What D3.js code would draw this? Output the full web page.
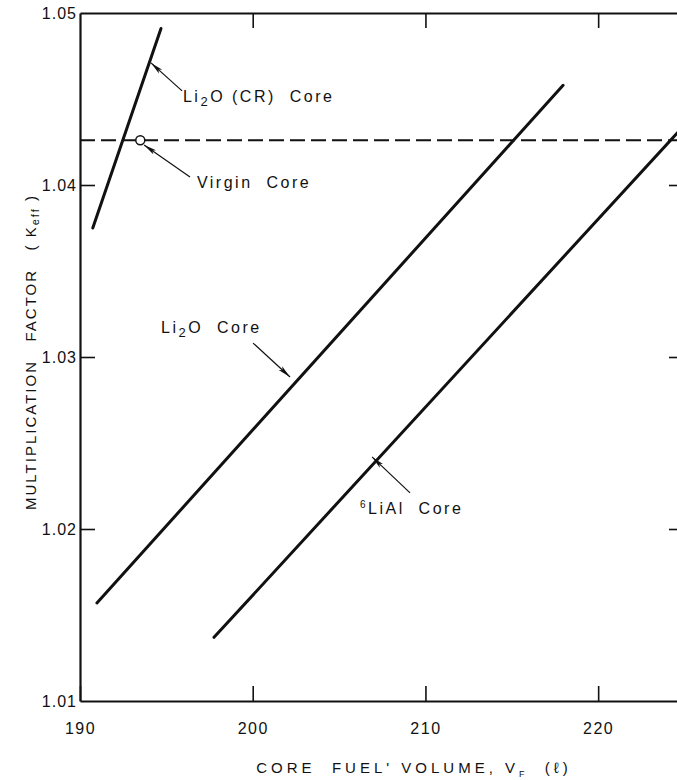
<!DOCTYPE html>
<html>
<head>
<meta charset="utf-8">
<script src="https://cdn.jsdelivr.net/npm/d3@7"></script>
<style>
  body { margin: 0; background: #fff; }
  text { font-family: "Liberation Sans", Arial, sans-serif; fill: #111; white-space: pre; }
</style>
</head>
<body>
<svg id="chart"></svg>
<script>
// Keff vs core fuel volume
const xTicks = [190, 200, 210, 220];
const yTicks = [1.01, 1.02, 1.03, 1.04, 1.05];
const li2oCR = [[190.74, 1.0375], [194.69, 1.0491]];
const li2o = [[190.98, 1.0157], [217.97, 1.0458]];
const liAl = [[197.76, 1.0137], [225.2, 1.0437]];
const virginKeff = 1.0426;
const virginVol = 193.49;

// labels: [label x, label y, arrow tail x, tail y, arrow tip x, tip y] in data units
const notes = [
  { key: "cr", pos: [195.96, 1.04483, 195.91, 1.04547, 194.11, 1.0471] },
  { key: "virgin", pos: [196.77, 1.03983, 196.37, 1.04047, 193.71, 1.04233] },
  { key: "li2o", pos: [194.69, 1.0314, 200.02, 1.03081, 202.16, 1.02884] },
  { key: "lial", pos: [206.21, 1.02087, 209.11, 1.0221, 206.91, 1.02419] }
];

const W = 677, H = 780;
const margin = { top: 13, right: -7, bottom: 79, left: 80 };
const w = W - margin.left - margin.right, h = H - margin.top - margin.bottom;

const svg = d3.select("#chart").attr("width", W).attr("height", H);
const g = svg.append("g").attr("transform", `translate(${margin.left},${margin.top})`);

const x = d3.scaleLinear().domain([190, 224.97]).range([0, w]);
const y = d3.scaleLinear().domain([1.01, 1.05]).range([h, 0]);

svg.append("defs").append("marker")
  .attr("id", "arr").attr("viewBox", "0 0 13 6").attr("refX", 13).attr("refY", 3)
  .attr("markerWidth", 13).attr("markerHeight", 6).attr("markerUnits", "userSpaceOnUse")
  .attr("orient", "auto")
  .append("path").attr("d", "M0,0.5 L13,3 L0,5.5 L3,3 Z").attr("fill", "#111");

// Frame + ticks (ticks point inward)
const tk = 15;
const axStyle = sel => {
  sel.select(".domain").attr("stroke", "#111").attr("stroke-width", 2.2);
  sel.selectAll(".tick line").attr("stroke", "#111").attr("stroke-width", 1.6);
};
g.append("g").attr("transform", `translate(0,${h})`)
  .call(d3.axisBottom(x).tickValues(xTicks).tickSizeInner(-tk).tickSizeOuter(0).tickPadding(22).tickFormat(d3.format("d")))
  .call(axStyle)
  .call(s => s.selectAll(".tick text").style("font-size", "16px").style("letter-spacing", "1.5px").attr("fill", "#111"));
g.append("g")
  .call(d3.axisTop(x).tickValues(xTicks.slice(1)).tickSizeInner(-tk).tickSizeOuter(0).tickFormat(""))
  .call(axStyle);
g.append("g")
  .call(d3.axisLeft(y).tickValues(yTicks).tickSizeInner(-tk).tickSizeOuter(0).tickPadding(3).tickFormat(d3.format(".2f")))
  .call(axStyle)
  .call(s => s.selectAll(".tick text").style("font-size", "16px").style("letter-spacing", "1px").attr("fill", "#111"))
  .call(s => s.selectAll(".tick line").filter(d => d === 1.01 || d === 1.05).remove());
g.append("g").attr("transform", `translate(${w},0)`)
  .call(d3.axisRight(y).tickValues(yTicks.slice(1, 4)).tickSizeInner(-tk).tickSizeOuter(0).tickFormat(""))
  .call(axStyle);

// Virgin core reference (dashed)
g.append("line")
  .attr("x1", x(190)).attr("x2", x(224.97))
  .attr("y1", y(virginKeff)).attr("y2", y(virginKeff))
  .attr("stroke", "#111").attr("stroke-width", 2).attr("stroke-dasharray", "15,6");

// Curves
const line = d3.line().x(d => x(d[0])).y(d => y(d[1]));
[li2oCR, li2o, liAl].forEach(s => {
  g.append("path").datum(s).attr("d", line)
    .attr("fill", "none").attr("stroke", "#111").attr("stroke-width", 3).attr("stroke-linecap", "round");
});

g.append("circle").attr("cx", x(virginVol)).attr("cy", y(virginKeff)).attr("r", 4.5)
  .attr("fill", "#fff").attr("stroke", "#111").attr("stroke-width", 1.5);

// Annotations
notes.forEach(n => {
  const [lx, ly, ax, ay, tx, ty] = n.pos;
  g.append("line").attr("x1", x(ax)).attr("y1", y(ay)).attr("x2", x(tx)).attr("y2", y(ty))
    .attr("stroke", "#111").attr("stroke-width", 1.2).attr("marker-end", "url(#arr)");
  const t = g.append("text").attr("x", x(lx)).attr("y", y(ly))
    .style("font-size", "16px").style("letter-spacing", "2.5px");
  if (n.key === "cr") {
    t.append("tspan").text("Li");
    t.append("tspan").attr("dy", 4).style("font-size", "13px").text("2");
    t.append("tspan").attr("dy", -4).text("O (CR)  Core");
  } else if (n.key === "virgin") {
    t.text("Virgin  Core");
  } else if (n.key === "li2o") {
    t.append("tspan").text("Li");
    t.append("tspan").attr("dy", 4).style("font-size", "13px").text("2");
    t.append("tspan").attr("dy", -4).text("O  Core");
  } else {
    t.append("tspan").attr("dy", -6).style("font-size", "10px").text("6");
    t.append("tspan").attr("dy", 6).text("LiAl  Core");
  }
});

// Axis titles
const xt = svg.append("text").attr("x", 414).attr("y", 773).attr("text-anchor", "middle")
  .style("font-size", "15px").style("letter-spacing", "4px");
xt.append("tspan").text("CORE  FUEL' VOLUME, V");
xt.append("tspan").attr("dy", 4).style("font-size", "9px").text("F");
xt.append("tspan").attr("dy", -4).text("  (\u2113)");

const yt = svg.append("text").attr("transform", "translate(36,352) rotate(-90)")
  .attr("text-anchor", "middle").style("font-size", "15px").style("letter-spacing", "2px");
yt.append("tspan").text("MULTIPLICATION   FACTOR   ( K");
yt.append("tspan").attr("dy", 3).style("font-size", "11px").text("eff");
yt.append("tspan").attr("dy", -3).text(" )");
</script>
</body>
</html>
